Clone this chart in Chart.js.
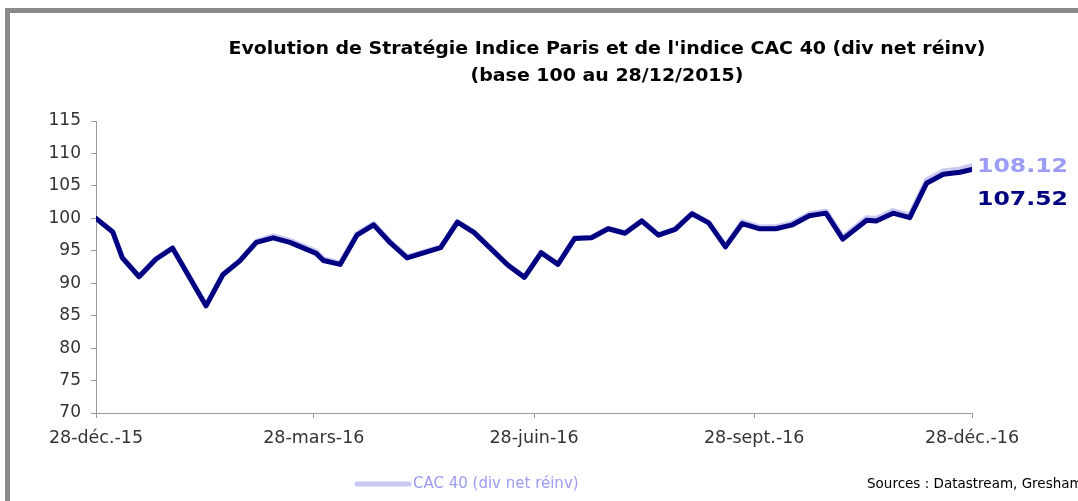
<!DOCTYPE html>
<html>
<head>
<meta charset="utf-8">
<script src="https://cdn.jsdelivr.net/npm/chart.js@4.4.1/dist/chart.umd.min.js"></script>
<style>
  html, body { margin: 0; padding: 0; background: #fff; overflow: hidden; }
  #frame { position: absolute; left: 5px; top: 8px; width: 2000px; height: 2000px; border: 5px solid #8a8a8a; }
  #myChart { position: absolute; left: 0; top: 0; }
</style>
</head>
<body>
<div id="frame"></div>
<canvas id="myChart" width="1078" height="501"></canvas>
<script>
// days since 28/12/2015
var days = [0, 7, 11, 18, 25, 32, 46, 53, 60, 67, 74, 81, 92, 95, 102, 109, 116, 123, 130, 144, 151, 158, 172, 179, 186, 193, 200, 207, 214, 221, 228, 235, 242, 249, 256, 263, 270, 277, 284, 291, 298, 305, 312, 322, 326, 333, 340, 347, 354, 361, 366];

var strategie = [100, 97.9, 93.9, 91.0, 93.7, 95.4, 86.5, 91.3, 93.4, 96.3, 97.0, 96.3, 94.6, 93.5, 92.9, 97.4, 99.0, 96.2, 93.9, 95.5, 99.4, 97.8, 92.8, 90.9, 94.7, 92.9, 96.9, 97.0, 98.4, 97.7, 99.6, 97.4, 98.3, 100.7, 99.3, 95.6, 99.2, 98.4, 98.4, 99.0, 100.4, 100.8, 96.8, 99.7, 99.6, 100.8, 100.1, 105.4, 106.8, 107.1, 107.52];

var cac40 = [100, 97.9, 94.0, 91.1, 93.8, 95.5, 86.6, 91.4, 93.5, 96.5, 97.3, 96.6, 94.9, 93.8, 93.1, 97.6, 99.2, 96.4, 94.1, 95.6, 99.5, 97.9, 92.9, 91.0, 94.8, 93.0, 97.0, 97.1, 98.5, 97.8, 99.7, 97.5, 98.4, 100.8, 99.4, 95.8, 99.5, 98.7, 98.7, 99.3, 100.7, 101.1, 97.1, 100.1, 100.0, 101.2, 100.5, 105.9, 107.3, 107.6, 108.12];

var tickDays = [0, 91, 183, 275, 366];
var tickLabels = ['28-déc.-15', '28-mars-16', '28-juin-16', '28-sept.-16', '28-déc.-16'];

var titleLines = ["Evolution de Stratégie Indice Paris et de l'indice CAC 40 (div net réinv)", "(base 100 au 28/12/2015)"];
var legendText = 'CAC 40 (div net réinv)';
var sourceText = 'Sources : Datastream, Gresham';

var navy = '#000080';
var lavender = '#c9c9f4';
var lavenderText = '#9c9cf5';

function toPoints(xs, ys) {
    var out = [];
    for (var i = 0; i < xs.length; i++) out.push({x: xs[i], y: ys[i]});
    return out;
}

// text slightly widened, like the original Tahoma
function wideText(ctx, txt, x, y, sx) {
    ctx.save();
    ctx.translate(x, y);
    ctx.scale(sx, 1);
    ctx.fillText(txt, 0, 0);
    ctx.restore();
}

// title, end labels, legend and source drawn on top of the chart
var extras = {
    id: 'extras',
    afterDraw: function(chart) {
        var ctx = chart.ctx;
        var ys = chart.scales.y;
        ctx.save();
        ctx.fillStyle = '#000';
        ctx.textAlign = 'center';
        ctx.textBaseline = 'middle';
        ctx.font = 'bold 18px "DejaVu Sans"';
        var sx = 757 / ctx.measureText(titleLines[0]).width;
        wideText(ctx, titleLines[0], 607, 49, sx);
        wideText(ctx, titleLines[1], 607, 76, sx);

        // last values
        var last = cac40.length - 1;
        var yC = ys.getPixelForValue(cac40[last]);
        ctx.textAlign = 'left';
        ctx.font = 'bold 20px "DejaVu Sans"';
        var t1 = cac40[last].toFixed(2), t2 = strategie[last].toFixed(2);
        var sl = 91 / ctx.measureText(t1).width;
        ctx.fillStyle = lavenderText;
        wideText(ctx, t1, 977, yC + 1, sl);
        ctx.fillStyle = navy;
        wideText(ctx, t2, 977, yC + 34, sl);

        // legend
        ctx.strokeStyle = lavender;
        ctx.lineWidth = 5;
        ctx.lineCap = 'round';
        ctx.beginPath();
        ctx.moveTo(357, 484);
        ctx.lineTo(409, 484);
        ctx.stroke();
        ctx.font = '15px "DejaVu Sans"';
        ctx.fillStyle = lavenderText;
        ctx.fillText(legendText, 413, 484);

        ctx.fillStyle = '#000';
        ctx.font = '13.5px "DejaVu Sans"';
        ctx.fillText(sourceText, 867, 484);
        ctx.restore();
    }
};

var ctx = document.getElementById('myChart').getContext('2d');
var myChart = new Chart(ctx, {
    type: 'line',
    data: {
        datasets: [
            {
                label: 'Stratégie Indice Paris',
                data: toPoints(days, strategie),
                borderColor: navy,
                backgroundColor: navy,
                borderWidth: 5,
                pointRadius: 0,
                fill: false,
                tension: 0,
                borderJoinStyle: 'round',
                borderCapStyle: 'round',
                order: 0
            },
            {
                label: legendText,
                data: toPoints(days, cac40),
                borderColor: lavender,
                backgroundColor: lavender,
                borderWidth: 5,
                pointRadius: 0,
                fill: false,
                tension: 0,
                borderJoinStyle: 'round',
                borderCapStyle: 'round',
                order: 1
            }
        ]
    },
    options: {
        responsive: false,
        animation: false,
        devicePixelRatio: 1,
        layout: { padding: { left: 0, right: 106, top: 121, bottom: 0 } },
        plugins: {
            legend: { display: false },
            title: { display: false },
            tooltip: { enabled: false }
        },
        scales: {
            x: {
                type: 'linear',
                min: 0,
                max: 366,
                afterBuildTicks: function(s) {
                    s.ticks = tickDays.map(function(v) { return {value: v}; });
                },
                afterFit: function(s) { s.height = 88; },
                ticks: {
                    autoSkip: false,
                    maxRotation: 0,
                    padding: 10,
                    color: '#333',
                    font: { family: 'DejaVu Sans', size: 17.5 },
                    callback: function(v) {
                        var i = tickDays.indexOf(v);
                        return i >= 0 ? tickLabels[i] : '';
                    }
                },
                grid: { drawOnChartArea: false, drawTicks: true, tickLength: 5, color: '#999' },
                border: { display: true, color: '#999', width: 1 }
            },
            y: {
                min: 70,
                max: 115,
                afterFit: function(s) { s.width = 96; },
                ticks: {
                    stepSize: 5,
                    padding: 10,
                    color: '#333',
                    font: { family: 'DejaVu Sans', size: 17 }
                },
                grid: { drawOnChartArea: false, drawTicks: true, tickLength: 5, color: '#999' },
                border: { display: true, color: '#999', width: 1 }
            }
        }
    },
    plugins: [extras]
});
</script>
</body>
</html>
